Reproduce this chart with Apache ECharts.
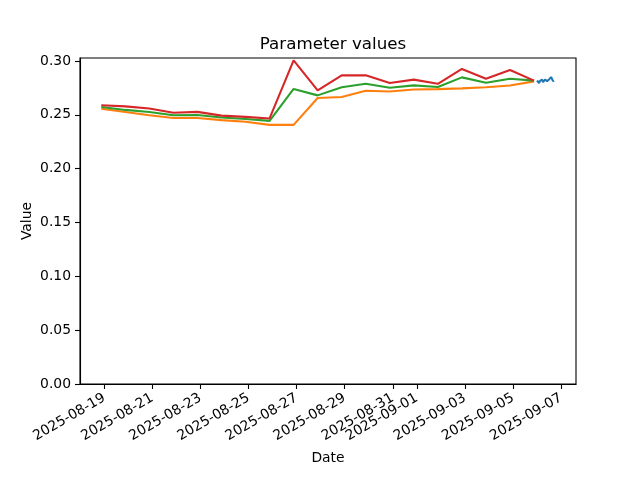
<!DOCTYPE html>
<html>
<head>
<meta charset="utf-8">
<script src="https://cdn.jsdelivr.net/npm/echarts@6/dist/echarts.min.js"></script>
<style>html,body{margin:0;padding:0;background:#fff}#c{width:640px;height:480px}</style>
</head>
<body>
<div id="c"></div>
<script>
// ---- data ----
const dailyTimes = ['2025-08-18T21:00','2025-08-19T21:00','2025-08-20T21:00','2025-08-21T21:00','2025-08-22T21:00','2025-08-23T21:00','2025-08-24T21:00','2025-08-25T21:00','2025-08-26T21:00','2025-08-27T21:00','2025-08-28T21:00','2025-08-29T21:00','2025-08-30T21:00','2025-08-31T21:00','2025-09-01T21:00','2025-09-02T21:00','2025-09-03T21:00','2025-09-04T21:00','2025-09-05T21:00'];
const orangeValues = [0.2555,0.2525,0.2495,0.2470,0.2470,0.2450,0.2435,0.2406,0.2406,0.2655,0.2665,0.2723,0.2716,0.2735,0.2738,0.2745,0.2755,0.2772,0.2810];
const greenValues  = [0.2572,0.2545,0.2525,0.2495,0.2498,0.2475,0.2460,0.2443,0.2740,0.2680,0.2755,0.2788,0.2750,0.2773,0.2758,0.2847,0.2798,0.2835,0.2817];
const redValues    = [0.2588,0.2578,0.2558,0.2518,0.2527,0.2492,0.2480,0.2466,0.3005,0.2726,0.2866,0.2866,0.2795,0.2826,0.2787,0.2925,0.2835,0.2915,0.2817];
const blueTimes = ['2025-09-06T00:00','2025-09-06T01:00','2025-09-06T02:00','2025-09-06T03:00','2025-09-06T04:00','2025-09-06T05:00','2025-09-06T06:00','2025-09-06T07:00','2025-09-06T08:00','2025-09-06T09:00','2025-09-06T10:00','2025-09-06T11:00','2025-09-06T12:00','2025-09-06T13:00','2025-09-06T14:00','2025-09-06T15:00','2025-09-06T16:00','2025-09-06T17:00'];
const blueValues = [0.2818,0.2800,0.2795,0.2815,0.2824,0.2826,0.2804,0.2812,0.2827,0.2830,0.2812,0.2820,0.2828,0.2824,0.2850,0.2862,0.2812,0.2818];
const xTickLabels = ['2025-08-19','2025-08-21','2025-08-23','2025-08-25','2025-08-27','2025-08-29','2025-08-31','2025-09-01','2025-09-03','2025-09-05','2025-09-07'];
const yTickValues = [0,0.05,0.10,0.15,0.20,0.25,0.30];

// ---- helpers ----
const ORIGIN = Date.parse('2025-08-19T00:00Z');
const toDay = s => (Date.parse((s.length === 10 ? s + 'T00:00' : s) + 'Z') - ORIGIN) / 86400000;
const pair = (ts, vs) => ts.map((t, i) => [toDay(t), vs[i]]);
const xTickPos = xTickLabels.map(toDay);
const labelFor = v => { const i = xTickPos.findIndex(p => Math.abs(p - v) < 1e-6); return i >= 0 ? xTickLabels[i] : ''; };

const font = 'DejaVu Sans';
const chart = echarts.init(document.getElementById('c'), null, {renderer: 'canvas'});
const lw = 2.08;
chart.setOption({
  animation: false,
  backgroundColor: '#fff',
  textStyle: {fontFamily: font},
  title: {
    text: 'Parameter values', left: 328, top: 31, textAlign: 'center',
    textStyle: {fontFamily: font, fontSize: 16.7, fontWeight: 'normal', color: '#000'}
  },
  grid: {left: 80, right: 64, top: 58, bottom: 96, show: true, borderColor: '#000', borderWidth: 1.1, containLabel: false},
  xAxis: {
    type: 'value', min: -1.01, max: 19.62,
    name: 'Date', nameLocation: 'middle', nameGap: 67, nameMoveOverlap: false,
    nameTextStyle: {fontFamily: font, fontSize: 13.9, color: '#000'},
    axisLine: {show: true, onZero: false, lineStyle: {color: '#000', width: 1.1}},
    axisTick: {show: true, length: 5, lineStyle: {color: '#000', width: 1.1}, customValues: xTickPos},
    axisLabel: {customValues: xTickPos, rotate: 30, margin: 13, fontFamily: font, fontSize: 13.9, color: '#000', formatter: v => labelFor(v)},
    splitLine: {show: false}
  },
  yAxis: {
    type: 'value', min: 0, max: 0.3027,
    name: 'Value', nameLocation: 'middle', nameGap: 46, nameRotate: 90, nameMoveOverlap: false,
    nameTextStyle: {fontFamily: font, fontSize: 13.9, color: '#000'},
    axisLine: {show: true, onZero: false, lineStyle: {color: '#000', width: 1.1}},
    axisTick: {show: true, length: 5, lineStyle: {color: '#000', width: 1.1}, customValues: yTickValues},
    axisLabel: {customValues: yTickValues, margin: 9, fontFamily: font, fontSize: 13.9, color: '#000', formatter: v => v.toFixed(2)},
    splitLine: {show: false}
  },
  series: [
    {type: 'line', name: 'blue', data: pair(blueTimes, blueValues), showSymbol: false, lineStyle: {color: '#1f77b4', width: lw}, itemStyle: {color: '#1f77b4'}, z: 2},
    {type: 'line', name: 'orange', data: pair(dailyTimes, orangeValues), showSymbol: false, lineStyle: {color: '#ff7f0e', width: lw}, itemStyle: {color: '#ff7f0e'}, z: 3},
    {type: 'line', name: 'green', data: pair(dailyTimes, greenValues), showSymbol: false, lineStyle: {color: '#2ca02c', width: lw}, itemStyle: {color: '#2ca02c'}, z: 4},
    {type: 'line', name: 'red', data: pair(dailyTimes, redValues), showSymbol: false, lineStyle: {color: '#d62728', width: lw}, itemStyle: {color: '#d62728'}, z: 5}
  ]
});
</script>
</body>
</html>
